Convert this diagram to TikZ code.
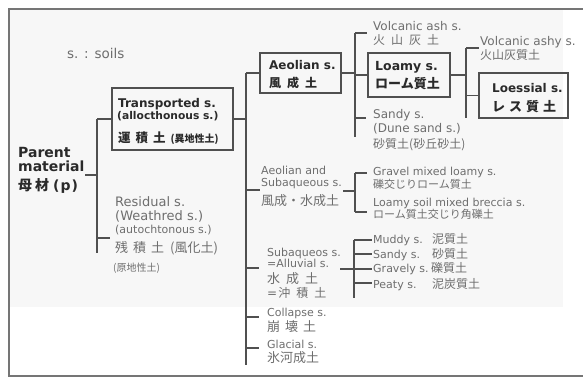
\documentclass[tikz,border=0pt]{standalone}
\usepackage{fontspec}
\setmainfont{DejaVu Sans}
\newfontfamily\jp{Noto Sans CJK JP}
\definecolor{ln}{HTML}{505050}
\definecolor{dk}{HTML}{2A2A2A}
\definecolor{gr}{HTML}{6E6E6E}
\definecolor{bgc}{HTML}{F7F7F7}
\definecolor{fr}{HTML}{757575}
\newcommand\fsz[1]{\fontsize{#1}{#1}\selectfont}
\newcommand\jg[1]{\hspace{#1pt}}
\begin{document}
\begin{tikzpicture}[x=1pt,y=-1pt,
  conn/.style={draw=ln, line width=1.4pt},
  box/.style={draw=ln, line width=1.4pt, inner sep=0},
  t/.style={anchor=base west, inner sep=0, text=gr},
  tb/.style={anchor=base west, inner sep=0, text=dk},
]
\useasboundingbox (0,0) rectangle (583,378);
\fill[bgc] (10,10) rectangle (563,307);
\draw[draw=fr, line width=1.5pt] (583,9) -- (9,9) -- (9,376) -- (583,376);

% legend
\node[t, font=\fsz{13.5}] (soils) at (67,58) {s. : soils};

% root
\node[tb, font=\fsz{14}\bfseries] (par1) at (18,157) {Parent};
\node[tb, font=\fsz{14}\bfseries] (par2) at (18,171) {material};
\node[tb, font=\fsz{14}\bfseries] (par3) at (18,190) {{\jp 母\jg{3}材}\jg{4}(\jg{1}p\jg{1})};

% transported box
\node[box, minimum width=121pt, minimum height=62pt] (trans) at (172.5,119) {};
\node[tb, font=\fsz{12}\bfseries] (tr1) at (118,107) {Transported s.};
\node[tb, font=\fsz{10.7}\bfseries] (tr2) at (117,119) {(allocthonous s.)};
\node[tb, font=\fsz{12.5}\bfseries] (tr3) at (118,142) {{\jp 運\jg{5}積\jg{5}土}\jg{5}{\fsz{10}\jp (異地性土)}};

% residual
\node[t, font=\fsz{13}] (re1) at (115,206) {Residual s.};
\node[t, font=\fsz{13}] (re2) at (115,220) {(Weathred s.)};
\node[t, font=\fsz{11}] (re3) at (115,233) {(autochtonous s.)};
\node[t, font=\fsz{13}] (re4) at (115,252) {{\jp 残\jg{5}積\jg{5}土}\jg{6}{\jp (風化土)}};
\node[t, font=\fsz{10}] (re5) at (113,271) {\jp (原地性土)};

% aeolian box
\node[box, minimum width=81pt, minimum height=40pt] (aeol) at (300.5,73) {};
\node[tb, font=\fsz{12}\bfseries] (ae1) at (269,69) {Aeolian s.};
\node[tb, font=\fsz{12}\bfseries] (ae2) at (269,87) {\jp 風\jg{6}成\jg{6}土};

% loamy box
\node[box, minimum width=82pt, minimum height=44pt] (loamy) at (409,75) {};
\node[tb, font=\fsz{12.5}\bfseries] (lo1) at (375,70) {Loamy s.};
\node[tb, font=\fsz{13}\bfseries] (lo2) at (375,88) {\jp ローム質土};

% loessial box
\node[box, minimum width=89pt, minimum height=45pt] (loess) at (523.5,95.5) {};
\node[tb, font=\fsz{12}\bfseries] (ls1) at (492,92) {Loessial s.};
\node[tb, font=\fsz{13}\bfseries] (ls2) at (492,111) {\jp レ\jg{4}ス\jg{4}質\jg{4}土};

% volcanic
\node[t, font=\fsz{12}] (va1) at (373,30) {Volcanic ash s.};
\node[t, font=\fsz{12}] (va2) at (373,44) {\jp 火\jg{6}山\jg{6}灰\jg{6}土};
\node[t, font=\fsz{12}] (vy1) at (480,45) {Volcanic ashy s.};
\node[t, font=\fsz{12}] (vy2) at (480,59) {\jp 火山灰質土};

% sandy
\node[t, font=\fsz{12}] (sa1) at (373,118) {Sandy s.};
\node[t, font=\fsz{12}] (sa2) at (373,132) {(Dune sand s.)};
\node[t, font=\fsz{12}] (sa3) at (373,148) {\jp 砂質土(砂丘砂土)};

% aeolian and subaqueous
\node[t, font=\fsz{11}] (as1) at (261,174) {Aeolian and};
\node[t, font=\fsz{11}] (as2) at (261,186) {Subaqueous s.};
\node[t, font=\fsz{13}] (as3) at (261,205) {\jp 風成・水成土};
\node[t, font=\fsz{11}] (gm1) at (373,175) {Gravel mixed loamy s.};
\node[t, font=\fsz{11}] (gm2) at (373,188) {\jp 礫交じりローム質土};
\node[t, font=\fsz{11}] (lb1) at (373,206) {Loamy soil mixed breccia s.};
\node[t, font=\fsz{11}] (lb2) at (373,218) {\jp ローム質土交じり角礫土};

% subaqueous
\node[t, font=\fsz{11}] (su1) at (267,256) {Subaqueos s.};
\node[t, font=\fsz{11}] (su2) at (267,267) {=Alluvial s.};
\node[t, font=\fsz{13}] (su3) at (267,283) {\jp 水\jg{6}成\jg{6}土};
\node[t, font=\fsz{12}] (su4) at (267,297) {=\jg{1}{\jp 沖\jg{6}積\jg{6}土}};
\node[t, font=\fsz{11}] (mu1) at (373,243) {Muddy s.};
\node[t, font=\fsz{12}] (mu2) at (432,243) {\jp 泥質土};
\node[t, font=\fsz{11}] (sd1) at (373,258) {Sandy s.};
\node[t, font=\fsz{12}] (sd2) at (432,258) {\jp 砂質土};
\node[t, font=\fsz{11}] (gv1) at (373,272) {Gravely s.};
\node[t, font=\fsz{12}] (gv2) at (431,272) {\jp 礫質土};
\node[t, font=\fsz{11}] (pt1) at (373,288) {Peaty s.};
\node[t, font=\fsz{12}] (pt2) at (432,288) {\jp 泥炭質土};

% collapse, glacial
\node[t, font=\fsz{11}] (co1) at (267,316) {Collapse s.};
\node[t, font=\fsz{13}] (co2) at (267,331) {\jp 崩\jg{5}壊\jg{5}土};
\node[t, font=\fsz{11}] (gl1) at (267,348) {Glacial s.};
\node[t, font=\fsz{13}] (gl2) at (267,362) {\jp 氷河成土};

% bus coordinates
\coordinate (pa) at (85,175);
\coordinate (aT) at (97,119); \coordinate (aB) at (97,253);
\coordinate (bT) at (246,73); \coordinate (bB) at (246,365);
\coordinate (cT) at (355,33); \coordinate (cB) at (355,137);
\coordinate (dT) at (466,48); \coordinate (dB) at (466,118);
\coordinate (eT) at (355,173); \coordinate (eB) at (355,212);
\coordinate (fT) at (354,240); \coordinate (fB) at (354,298);

% connectors
\draw[conn] (aT) -- (aB);
\draw[conn] (pa) -- (pa -| aT);
\draw[conn] (aT) -- (trans.west);
\draw[conn] (aT |- 0,238) -- (110,238);

\draw[conn] (bT) -- (bB);
\draw[conn] (trans.east) -- (trans.east -| bT);
\draw[conn] (bT) -- (aeol.west);
\draw[conn] (bT |- 0,190) -- (260,190);
\draw[conn] (bT |- 0,268) -- (259,268);
\draw[conn] (bT |- 0,317) -- (259,317);
\draw[conn] (bT |- 0,348) -- (259,348);

\draw[conn] (cT) -- (cB);
\draw[conn] (aeol.east) -- (aeol.east -| cT);
\draw[conn] (cT) -- (367,33);
\draw[conn] (loamy.west -| cT) -- (loamy.west);
\draw[conn] (cT |- 0,118) -- (366,118);

\draw[conn] (dT) -- (dB);
\draw[conn] (loamy.east) -- (loamy.east -| dT);
\draw[conn] (dT) -- (479,48);
\draw[conn] (loess.west -| dT) -- (loess.west);

\draw[conn] (eT) -- (eB);
\draw[conn] (343,191) -- (eT |- 0,191);
\draw[conn] (eT) -- (367,173);
\draw[conn] (eB) -- (367,212);

\draw[conn] (fT) -- (fB);
\draw[conn] (340,269) -- (372,269);
\draw[conn] (fT) -- (372,240);
\draw[conn] (fT |- 0,254) -- (372,254);
\draw[conn] (fT |- 0,283) -- (372,283);
\end{tikzpicture}
\end{document}
